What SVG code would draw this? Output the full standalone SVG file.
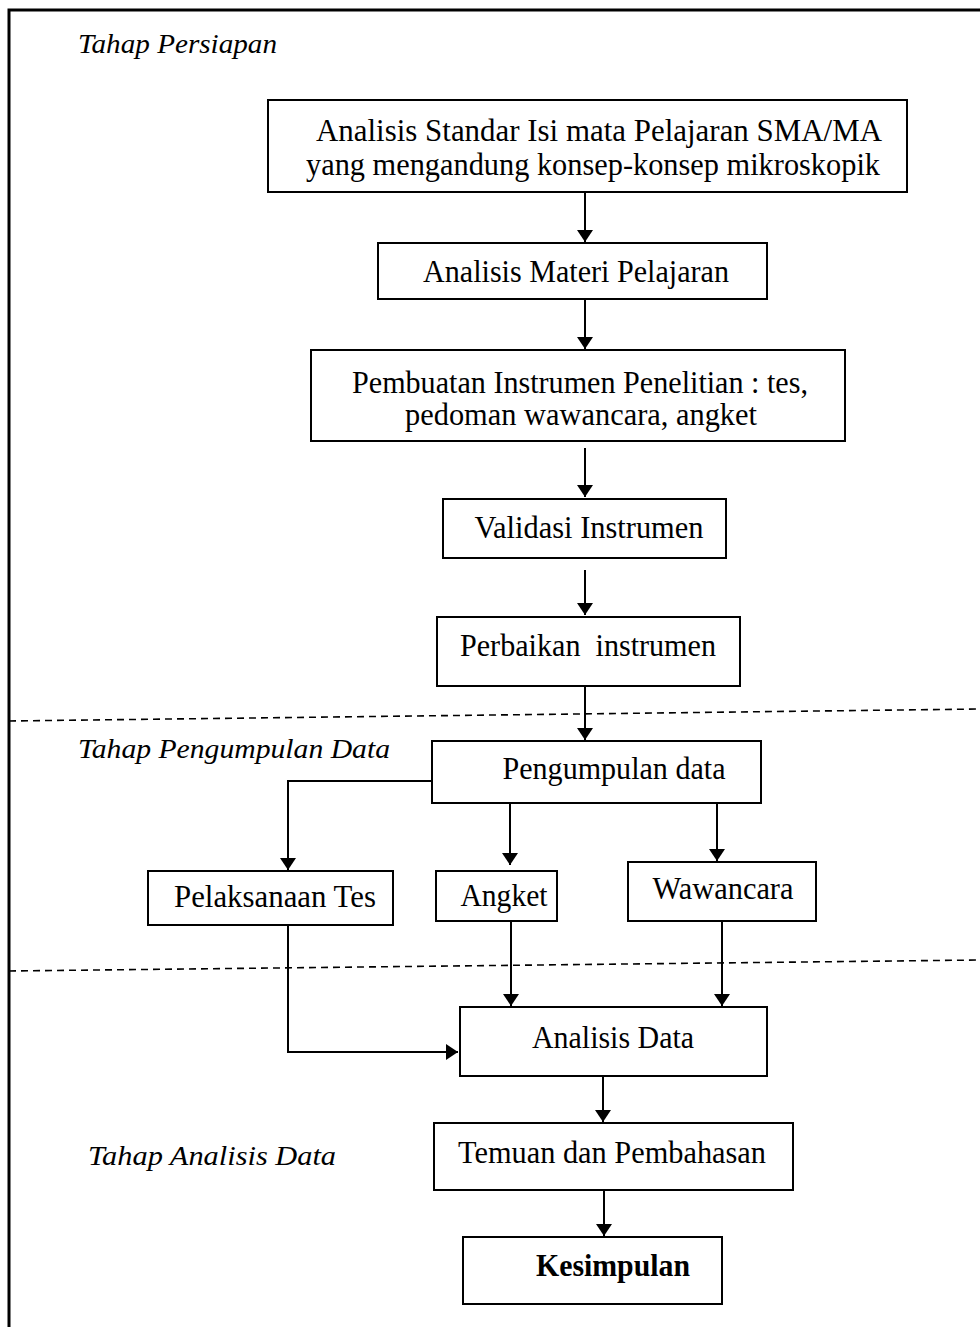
<svg xmlns="http://www.w3.org/2000/svg" width="980" height="1327" viewBox="0 0 980 1327">
<style>
.box{fill:#fff;stroke:#000;stroke-width:2}
.t{font-family:"Liberation Serif","Times New Roman",serif;font-size:31px;fill:#000;text-anchor:middle}
.b{font-weight:bold}
.lab{font-family:"Liberation Serif","Times New Roman",serif;font-style:italic;font-size:28px;fill:#000}
.c{fill:none;stroke:#000;stroke-width:2}
.d{fill:none;stroke:#000;stroke-width:1.6;stroke-dasharray:7,5}
.frame{fill:none;stroke:#000;stroke-width:3}
</style>
<defs>
<marker id="ah" viewBox="0 0 12 16" refX="12" refY="8" markerWidth="12" markerHeight="16" markerUnits="userSpaceOnUse" orient="auto">
<path d="M0,0 L12,8 L0,16 Z" fill="#000"/>
</marker>
</defs>
<rect width="980" height="1327" fill="#fff"/>
<g id="frame">
<path class="frame" d="M9,1327 L9,10 L980,10"/>
<path class="d" d="M9,721 L980,709"/>
<path class="d" d="M9,971 L980,960"/>
</g>
<g id="labels">
<text class="lab" x="78" y="53" textLength="199" lengthAdjust="spacingAndGlyphs">Tahap Persiapan</text>
<text class="lab" x="78" y="758" textLength="312" lengthAdjust="spacingAndGlyphs">Tahap Pengumpulan Data</text>
<text class="lab" x="88" y="1165" textLength="248" lengthAdjust="spacingAndGlyphs">Tahap Analisis Data</text>
</g>
<g id="connectors">
<line class="c" x1="585" y1="192" x2="585" y2="242" marker-end="url(#ah)"/>
<line class="c" x1="585" y1="299" x2="585" y2="349" marker-end="url(#ah)"/>
<line class="c" x1="585" y1="448" x2="585" y2="497" marker-end="url(#ah)"/>
<line class="c" x1="585" y1="570" x2="585" y2="615" marker-end="url(#ah)"/>
<line class="c" x1="585" y1="686" x2="585" y2="740" marker-end="url(#ah)"/>
<path class="c" d="M432,781 L288,781 L288,870" marker-end="url(#ah)"/>
<line class="c" x1="510" y1="803" x2="510" y2="865" marker-end="url(#ah)"/>
<line class="c" x1="717" y1="803" x2="717" y2="861" marker-end="url(#ah)"/>
<path class="c" d="M288,925 L288,1052 L458,1052" marker-end="url(#ah)"/>
<line class="c" x1="511" y1="921" x2="511" y2="1006" marker-end="url(#ah)"/>
<line class="c" x1="722" y1="921" x2="722" y2="1006" marker-end="url(#ah)"/>
<line class="c" x1="603" y1="1076" x2="603" y2="1122" marker-end="url(#ah)"/>
<line class="c" x1="604" y1="1190" x2="604" y2="1236" marker-end="url(#ah)"/>
</g>
<g id="n1"><rect class="box" x="268" y="100" width="639" height="92"/>
<text class="t" x="599" y="141" textLength="566" lengthAdjust="spacingAndGlyphs">Analisis Standar Isi mata Pelajaran SMA/MA</text>
<text class="t" x="593" y="175" textLength="574" lengthAdjust="spacingAndGlyphs">yang mengandung konsep-konsep mikroskopik</text></g>
<g id="n2"><rect class="box" x="378" y="243" width="389" height="56"/>
<text class="t" x="576" y="282" textLength="306" lengthAdjust="spacingAndGlyphs">Analisis Materi Pelajaran</text></g>
<g id="n3"><rect class="box" x="311" y="350" width="534" height="91"/>
<text class="t" x="580" y="393" textLength="456" lengthAdjust="spacingAndGlyphs">Pembuatan Instrumen Penelitian : tes,</text>
<text class="t" x="581" y="425" textLength="352" lengthAdjust="spacingAndGlyphs">pedoman wawancara, angket</text></g>
<g id="n4"><rect class="box" x="443" y="499" width="283" height="59"/>
<text class="t" x="589" y="538" textLength="229" lengthAdjust="spacingAndGlyphs">Validasi Instrumen</text></g>
<g id="n5"><rect class="box" x="437" y="617" width="303" height="69"/>
<text class="t" x="588" y="656" xml:space="preserve" textLength="256" lengthAdjust="spacingAndGlyphs">Perbaikan  instrumen</text></g>
<g id="n6"><rect class="box" x="432" y="741" width="329" height="62"/>
<text class="t" x="614" y="779" textLength="223" lengthAdjust="spacingAndGlyphs">Pengumpulan data</text></g>
<g id="n7"><rect class="box" x="148" y="871" width="245" height="54"/>
<text class="t" x="275" y="907" textLength="202" lengthAdjust="spacingAndGlyphs">Pelaksanaan Tes</text></g>
<g id="n8"><rect class="box" x="436" y="871" width="121" height="50"/>
<text class="t" x="504" y="906" textLength="87" lengthAdjust="spacingAndGlyphs">Angket</text></g>
<g id="n9"><rect class="box" x="628" y="862" width="188" height="59"/>
<text class="t" x="723" y="899" textLength="141" lengthAdjust="spacingAndGlyphs">Wawancara</text></g>
<g id="n10"><rect class="box" x="460" y="1007" width="307" height="69"/>
<text class="t" x="613" y="1048" textLength="162" lengthAdjust="spacingAndGlyphs">Analisis Data</text></g>
<g id="n11"><rect class="box" x="434" y="1123" width="359" height="67"/>
<text class="t" x="612" y="1163" textLength="308" lengthAdjust="spacingAndGlyphs">Temuan dan Pembahasan</text></g>
<g id="n12"><rect class="box" x="463" y="1237" width="259" height="67"/>
<text class="t b" x="613" y="1276" textLength="154" lengthAdjust="spacingAndGlyphs">Kesimpulan</text></g>
</svg>
